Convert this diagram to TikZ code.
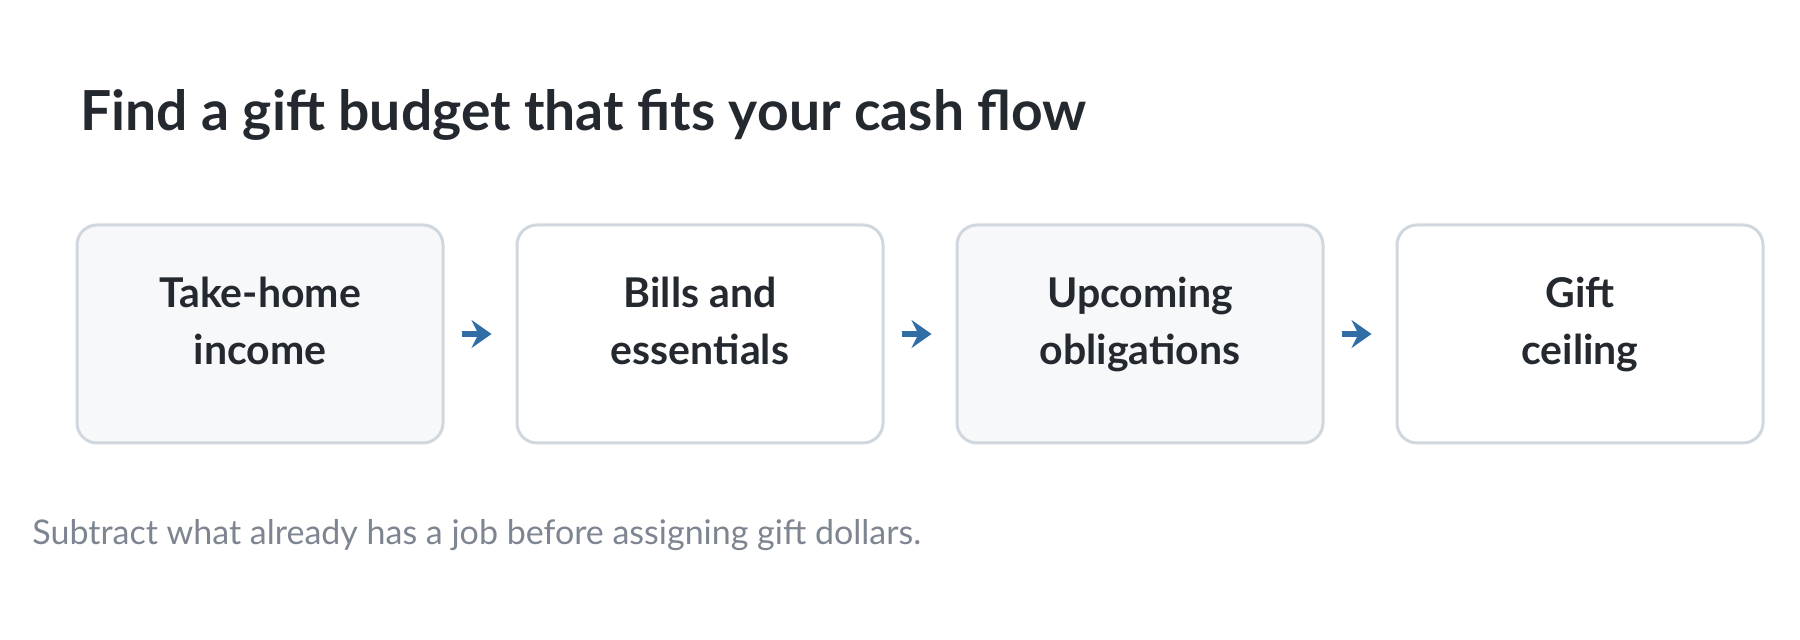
\documentclass[tikz,border=0pt]{standalone}
\usepackage{fontspec}
\setmainfont{Lato}
\usetikzlibrary{arrows.meta}
\definecolor{inkdark}{HTML}{24292F}
\definecolor{inkgray}{HTML}{7D8590}
\definecolor{boxline}{HTML}{D0D7DE}
\definecolor{boxfill}{HTML}{F6F8FA}
\definecolor{flowblue}{HTML}{2F6DA4}
\begin{document}
\begin{tikzpicture}[x=0.5pt, y=-0.5pt,
  stage/.style={rectangle, rounded corners=10pt, draw=boxline, line width=1.5pt,
    minimum width=183pt, minimum height=109pt, align=center,
    text height=36pt, text depth=5pt,
    font=\fontsize{20.5}{28.5}\selectfont\bfseries, text=inkdark},
  flow/.style={draw=flowblue, line width=3pt, shorten <=8.5pt, shorten >=12pt,
    -{Triangle[length=10pt, width=14pt, inset=3.5pt]}}]
  \useasboundingbox (0,0) rectangle (1800,640);
  % Nodes
  \node (title) [anchor=base west, inner sep=0pt, font=\fontsize{27.6}{32}\selectfont\bfseries, text=inkdark]
    at (80, 131) {Find a gift budget that fits your cash flow};
  \node (take-home) [stage, fill=boxfill] at (260, 334) {Take-home\\income};
  \node (bills) [stage, fill=white] at (700, 334) {Bills and\\essentials};
  \node (upcoming) [stage, fill=boxfill] at (1140, 334) {Upcoming\\obligations};
  \node (ceiling) [stage, fill=white] at (1580, 334) {Gift\\ceiling};
  \node (note) [anchor=base west, inner sep=0pt, font=\fontsize{17}{20}\selectfont, text=inkgray]
    at (32, 545) {Subtract what already has a job before assigning gift dollars.};
  % Arrow
  \draw[flow] (take-home) -- (bills);
  \draw[flow] (bills) -- (upcoming);
  \draw[flow] (upcoming) -- (ceiling);
\end{tikzpicture}
\end{document}
